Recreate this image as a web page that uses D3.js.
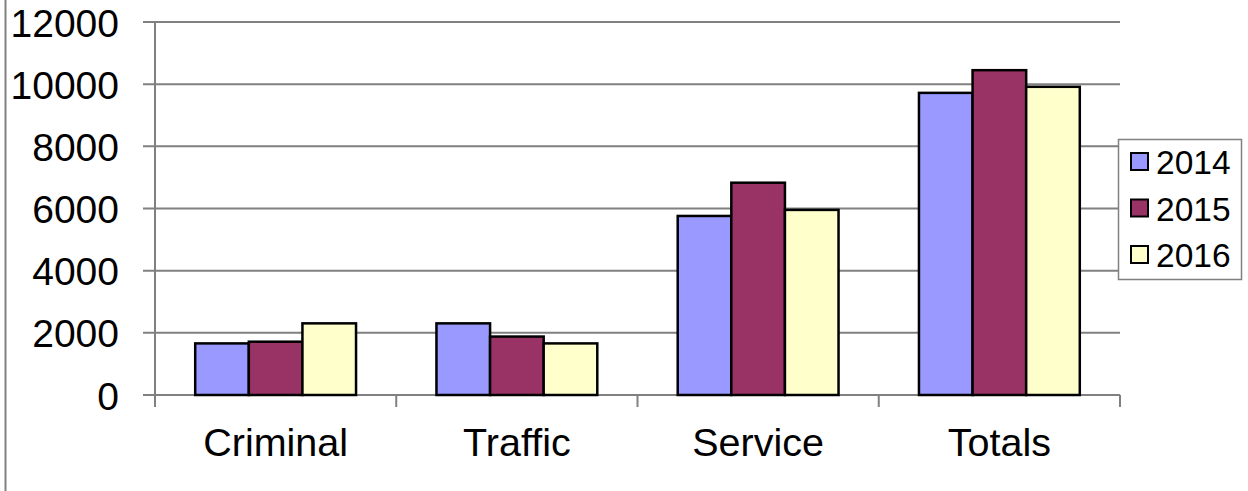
<!DOCTYPE html>
<html><head><meta charset="utf-8">
<script src="https://cdn.jsdelivr.net/npm/d3@7"></script>
<style>body{margin:0;background:#fff}svg{display:block}text{font-family:"Liberation Sans",Arial,sans-serif}</style>
</head><body><svg id="c" width="1248" height="491"></svg>
<script>
const categories = ["Criminal","Traffic","Service","Totals"];
const seriesNames = ["2014","2015","2016"];
const values2014 = [1660, 2305, 5760, 9720];
const values2015 = [1715, 1880, 6830, 10450];
const values2016 = [2305, 1660, 5955, 9915];
const yTicks = [0,2000,4000,6000,8000,10000,12000];
const colors = ["#9999ff","#993366","#ffffcc"];

const series = [values2014, values2015, values2016];
const svg = d3.select("#c");
const pL = 155, pR = 1120, pT = 22, pB = 395;

// outer chart border (left edge)
svg.append("line").attr("x1",5.5).attr("x2",5.5).attr("y1",0).attr("y2",491).attr("stroke","#808080").attr("stroke-width",2);

const y = d3.scaleLinear().domain([0,12000]).range([pB, pT]);
const x = d3.scaleBand().domain(categories).range([pL, pR]).paddingInner(0).paddingOuter(0);
const xs = d3.scaleBand().domain(seriesNames).range([0, x.bandwidth()]).paddingOuter(0.75).paddingInner(0);

// gridlines with left tick extension
const gy = svg.append("g").attr("transform",`translate(${pL},0)`);
gy.selectAll("line.grid").data(yTicks).enter().append("line")
  .attr("x1",-12).attr("x2",pR-pL).attr("y1",d=>y(d)).attr("y2",d=>y(d))
  .attr("stroke","#808080").attr("stroke-width",2);
gy.call(d3.axisLeft(y).tickValues(yTicks).tickSize(0).tickFormat(d=>d));
gy.select(".domain").remove();
gy.selectAll(".tick text").attr("x",-36).attr("font-size",39).attr("fill","#000").attr("dy","0.36em");

// y axis line
svg.append("line").attr("x1",pL).attr("x2",pL).attr("y1",pT).attr("y2",pB+12).attr("stroke","#808080").attr("stroke-width",2);

// bars
const g = svg.append("g");
categories.forEach((c,i)=>{
  series.forEach((s,j)=>{
    g.append("rect")
      .attr("x", x(c)+xs(seriesNames[j]))
      .attr("y", y(s[i]))
      .attr("width", xs.bandwidth())
      .attr("height", y(0)-y(s[i]))
      .attr("fill", colors[j]).attr("stroke","#000").attr("stroke-width",2.5);
  });
});

// x axis: category tick marks at boundaries
const bounds = categories.map(c=>x(c)).concat([pR]);
svg.selectAll("line.xt").data(bounds.slice(1)).enter().append("line")
  .attr("x1",d=>d).attr("x2",d=>d).attr("y1",pB).attr("y2",pB+12)
  .attr("stroke","#808080").attr("stroke-width",2);
const gx = svg.append("g").attr("transform",`translate(0,${pB})`).call(d3.axisBottom(x).tickSize(0));
gx.select(".domain").remove();
gx.selectAll(".tick text").attr("font-size",39.5).attr("fill","#000").attr("y",33).attr("dy","0.71em");

// legend
const lg = svg.append("g");
lg.append("rect").attr("x",1118.5).attr("y",139.5).attr("width",123).attr("height",140).attr("fill","#fff").attr("stroke","#808080").attr("stroke-width",1.5);
seriesNames.forEach((n,j)=>{
  const cy = 162 + j*46.5;
  lg.append("rect").attr("x",1131).attr("y",cy-9).attr("width",17).attr("height",17)
    .attr("fill",colors[j]).attr("stroke","#000").attr("stroke-width",2);
  lg.append("text").attr("x",1156).attr("y",cy).attr("dy","0.36em").attr("font-size",33.5).text(n);
});
</script></body></html>
